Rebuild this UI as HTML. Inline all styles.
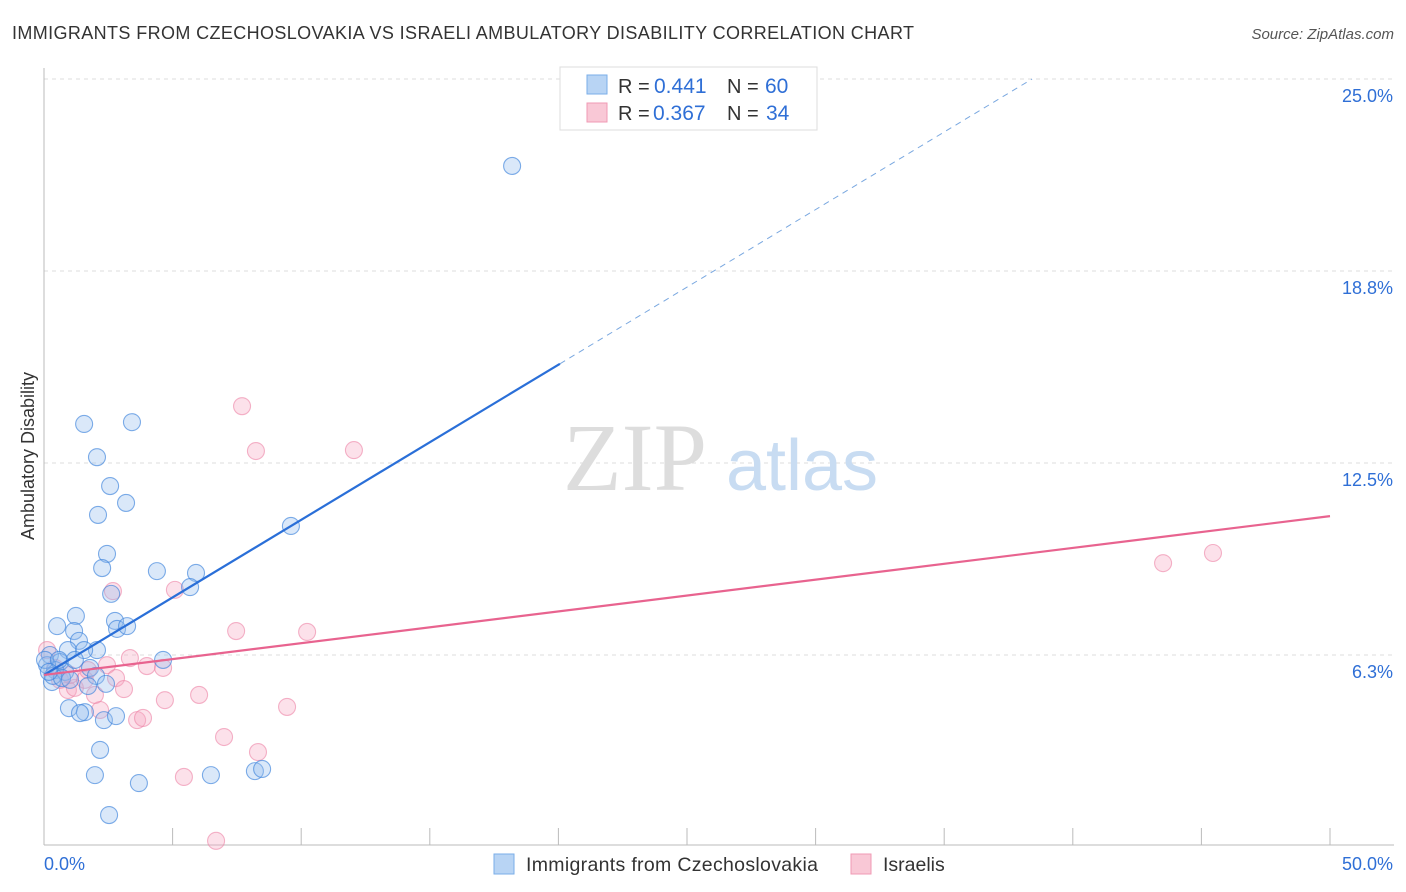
<!DOCTYPE html>
<html><head><meta charset="utf-8"><style>
body{margin:0;background:#fff;font-family:"Liberation Sans",sans-serif;}
svg{display:block}
</style></head><body>
<svg id="chart" width="1406" height="892" viewBox="0 0 1406 892" xmlns="http://www.w3.org/2000/svg">
<text x="12" y="39" font-size="18" fill="#333" textLength="902">IMMIGRANTS FROM CZECHOSLOVAKIA VS ISRAELI AMBULATORY DISABILITY CORRELATION CHART</text>
<text x="1394" y="39" font-size="15" fill="#555" font-style="italic" text-anchor="end">Source: ZipAtlas.com</text>
<text x="34" y="456" font-size="18" fill="#333" text-anchor="middle" transform="rotate(-90 34 456)">Ambulatory Disability</text>
<g id="grid"></g>
<g>
<text x="635" y="490" font-size="96" fill="#ddd" font-family="Liberation Serif,serif" text-anchor="middle">ZIP</text>
<text x="802" y="490" font-size="72" fill="#c8dcf2" text-anchor="middle">atlas</text>
</g>
<g id="axes"></g>
<g id="pts"></g>
<g id="lines"></g>
<g>
<rect x="560" y="67" width="257" height="63" fill="#fff" stroke="#ddd"/>
<rect x="587" y="75" width="20" height="19" fill="#b8d4f4" stroke="#7aaee8"/>
<rect x="587" y="103" width="20" height="19" fill="#f9c8d6" stroke="#f09ab4"/>
<text x="618" y="93" font-size="20" fill="#333">R =</text>
<text x="654" y="93" font-size="21" fill="#2f6fd6">0.441</text>
<text x="727" y="93" font-size="20" fill="#333">N =</text>
<text x="765" y="93" font-size="21" fill="#2f6fd6">60</text>
<text x="618" y="120" font-size="20" fill="#333">R =</text>
<text x="653" y="120" font-size="21" fill="#2f6fd6">0.367</text>
<text x="727" y="120" font-size="20" fill="#333">N =</text>
<text x="766" y="120" font-size="21" fill="#2f6fd6">34</text>
</g>
<g>
<rect x="494" y="854" width="20" height="20" fill="#b8d4f4" stroke="#7aaee8"/>
<text x="526" y="871" font-size="19.5" fill="#333" textLength="292">Immigrants from Czechoslovakia</text>
<rect x="851" y="854" width="20" height="20" fill="#f9c8d6" stroke="#f09ab4"/>
<text x="883" y="871" font-size="19.5" fill="#333">Israelis</text>
</g>
</svg>
<script>
const yTicks=[25.0,18.8,12.5,6.3];
const yTickVals=[25,18.75,12.5,6.25];
const xTickLabels=["0.0%","50.0%"];
const blueX=[1.56,3.42,2.06,2.57,3.19,2.10,9.60,2.45,4.39,2.26,5.91,5.68,2.61,1.24,0.51,1.17,2.76,2.84,3.23,1.36,2.06,0.93,1.56,4.63,0.23,0.62,1.79,0.43,0.82,0.31,2.02,1.71,2.41,0.97,1.59,1.40,2.33,2.80,2.18,1.98,3.69,6.49,8.20,8.48,2.53,18.20,0.12,0.35,0.70,0.04,0.58,1.01,1.20,0.19];
const blueY=[13.77,13.83,12.69,11.75,11.20,10.81,10.45,9.54,8.98,9.08,8.92,8.46,8.24,7.52,7.19,7.03,7.36,7.10,7.19,6.71,6.41,6.41,6.41,6.09,6.25,6.02,5.83,5.76,5.70,5.37,5.57,5.24,5.31,4.52,4.39,4.36,4.13,4.26,3.16,2.34,2.08,2.34,2.47,2.54,1.04,22.17,5.92,5.57,5.50,6.09,6.09,5.44,6.09,5.70];
const pinkX=[7.70,8.24,12.05,43.51,45.45,2.68,5.09,7.47,10.23,3.34,2.45,4.00,4.63,2.80,3.11,0.93,1.20,4.70,6.03,9.45,2.18,3.62,3.85,7.00,8.32,5.44,6.69,0.12,0.43,1.59,0.62,1.98,1.01,1.71];
const pinkY=[14.35,12.89,12.92,9.24,9.57,8.33,8.37,7.03,7.00,6.15,5.92,5.89,5.83,5.50,5.14,5.11,5.18,4.78,4.95,4.56,4.46,4.13,4.20,3.58,3.09,2.28,0.20,6.41,5.83,5.44,5.44,4.95,5.60,5.76];
const blueTrend=[5.6,0.505];
const pinkTrend=[5.6,0.1034];
const NS="http://www.w3.org/2000/svg";
const X=v=>44+v/50*1286;
const Y=v=>847-v/6.25*192;
function mk(tag,attrs,parent){const e=document.createElementNS(NS,tag);for(const k in attrs)e.setAttribute(k,attrs[k]);parent.appendChild(e);return e;}
const grid=document.getElementById('grid'),axes=document.getElementById('axes'),pts=document.getElementById('pts'),lines=document.getElementById('lines');
yTickVals.forEach((v,i)=>{
 const l=mk('line',{x1:44,x2:1394,y1:Y(v),y2:Y(v),stroke:'#ddd','stroke-dasharray':'4,4'},grid);
 
 
 const t=mk('text',{x:1393,y:Y(v)+23,'font-size':18,fill:'#2f6fd6','text-anchor':'end'},axes);
 t.textContent=yTicks[i].toFixed(1)+'%';
 
 
});
const ya=mk('line',{x1:44,x2:44,y1:68,y2:845,stroke:'#bbb'},axes);


const xa=mk('line',{x1:44,x2:1394,y1:845,y2:845,stroke:'#bbb'},axes);


for(let v=5;v<=50;v+=5){
 const t=mk('line',{x1:X(v),x2:X(v),y1:828,y2:845,stroke:'#bbb'},axes);
 
 
}
const xl0=mk('text',{x:44,y:870,'font-size':18,fill:'#2f6fd6'},axes);
xl0.textContent=xTickLabels[0];


const xl1=mk('text',{x:1393,y:870,'font-size':18,fill:'#2f6fd6','text-anchor':'end'},axes);
xl1.textContent=xTickLabels[1];


pinkX.forEach((x,i)=>{
 const c=mk('circle',{cx:X(x),cy:Y(pinkY[i]),r:8.5,fill:'rgba(246,170,195,0.35)',stroke:'rgba(236,130,165,0.6)','stroke-width':1.1},pts);
 
 
});
blueX.forEach((x,i)=>{
 const c=mk('circle',{cx:X(x),cy:Y(blueY[i]),r:8.5,fill:'rgba(150,190,238,0.35)',stroke:'rgba(60,130,220,0.65)','stroke-width':1.1},pts);
 
 
});
const bEnd=20.06, bMax=(25-blueTrend[0])/blueTrend[1];
const bl=mk('line',{x1:X(0),y1:Y(blueTrend[0]),x2:X(bEnd),y2:Y(blueTrend[0]+blueTrend[1]*bEnd),stroke:'#2a6fd8','stroke-width':2.2},lines);


const bd=mk('line',{x1:X(bEnd),y1:Y(blueTrend[0]+blueTrend[1]*bEnd),x2:X(bMax),y2:Y(25),stroke:'#7aa8e0','stroke-width':1,'stroke-dasharray':'6,5'},lines);


const pl=mk('line',{x1:X(0),y1:Y(pinkTrend[0]),x2:X(50),y2:Y(pinkTrend[0]+pinkTrend[1]*50),stroke:'#e8638f','stroke-width':2.2},lines);


</script>
</body></html>
